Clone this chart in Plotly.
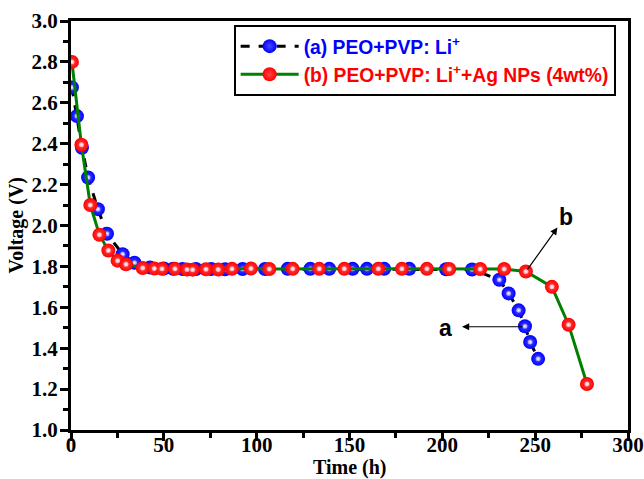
import plotly.graph_objects as go

# Series (a) PEO+PVP: Li+
time_a = [0.5, 3.2, 5.9, 9.2, 14.5, 19.4, 27.8, 34.2, 42.5, 50.0, 55.0, 60.1, 67.3, 75.5, 83.0,
          92.4, 104.5, 116.7, 128.9, 139.1, 151.7, 159.4, 168.7, 182.2, 202.0, 216.0,
          230.7, 235.7, 241.1, 244.5, 247.3, 251.6]
volt_a = [2.675, 2.535, 2.38, 2.235, 2.08, 1.96, 1.86, 1.818, 1.795, 1.79, 1.788, 1.787, 1.787, 1.787, 1.786,
          1.787, 1.787, 1.788, 1.788, 1.788, 1.788, 1.788, 1.788, 1.788, 1.786, 1.785,
          1.735, 1.668, 1.585, 1.507, 1.43, 1.348]

# Series (b) PEO+PVP: Li+ + Ag NPs (4wt%)
time_b = [0.5, 5.6, 10.4, 15.3, 20.1, 25.1, 29.6, 38.6, 44.9, 49.0, 56.0, 62.5, 65.5, 72.7,
          79.3, 86.7, 96.9, 106.8, 119.4, 133.7, 147.2, 165.5, 178.2, 191.7, 203.7, 220.4,
          233.3, 245.0, 259.0, 268.0, 277.9]
volt_b = [2.80, 2.395, 2.10, 1.955, 1.878, 1.828, 1.81, 1.792, 1.79, 1.788, 1.788, 1.785, 1.784, 1.786,
          1.785, 1.788, 1.79, 1.787, 1.788, 1.788, 1.788, 1.788, 1.788, 1.788, 1.787, 1.787,
          1.787, 1.775, 1.70, 1.515, 1.225]

x_ticks = [0, 50, 100, 150, 200, 250, 300]
y_ticks = [1.0, 1.2, 1.4, 1.6, 1.8, 2.0, 2.2, 2.4, 2.6, 2.8, 3.0]

MS = 14
fig = go.Figure()
fig.add_trace(go.Scatter(
    x=time_a, y=volt_a, mode="lines+markers",
    name="<b><span style='color:#0000ff'>(a) PEO+PVP: Li<sup>+</sup></span></b>",
    line=dict(color="black", width=3, dash="dash"),
    marker=dict(size=MS, color="#0000ff", line=dict(width=0),
                gradient=dict(type="radial", color="#4848ff")),
))
fig.add_trace(go.Scatter(
    x=time_a, y=volt_a, mode="markers", showlegend=False, hoverinfo="skip",
    marker=dict(size=5, color="#8888ff", line=dict(width=0),
                gradient=dict(type="radial", color="#ffffff")),
))
fig.add_trace(go.Scatter(
    x=time_b, y=volt_b, mode="lines+markers",
    name="<b><span style='color:#ff0000'>(b) PEO+PVP: Li<sup>+</sup>+Ag NPs (4wt%)</span></b>",
    line=dict(color="#008000", width=3),
    marker=dict(size=MS, color="#ff0000", line=dict(width=0),
                gradient=dict(type="radial", color="#ff4848")),
))
fig.add_trace(go.Scatter(
    x=time_b, y=volt_b, mode="markers", showlegend=False, hoverinfo="skip",
    marker=dict(size=5, color="#ff9aa8", line=dict(width=0),
                gradient=dict(type="radial", color="#ffffff")),
))

# arrows and labels
fig.add_annotation(x=210.6, y=1.505, ax=244.0, ay=1.505, xref="x", yref="y", axref="x", ayref="y",
                   text="", showarrow=True, arrowhead=2, arrowsize=1.2, arrowwidth=1.2,
                   arrowcolor="black", standoff=0, startstandoff=0)
fig.add_annotation(x=201.5, y=1.5, text="<b>a</b>", showarrow=False,
                   font=dict(family="Arial, Liberation Sans", size=23, color="black"))
fig.add_annotation(x=262.0, y=1.99, ax=245.3, ay=1.778, xref="x", yref="y", axref="x", ayref="y",
                   text="", showarrow=True, arrowhead=2, arrowsize=1.2, arrowwidth=1.2,
                   arrowcolor="black", standoff=0, startstandoff=0)
fig.add_annotation(x=266.5, y=2.04, text="<b>b</b>", showarrow=False,
                   font=dict(family="Arial, Liberation Sans", size=23, color="black"))

serif = "Times New Roman, Liberation Serif"
# axis titles as paper annotations for precise placement
fig.add_annotation(x=0.5, y=-0.091, xref="paper", yref="paper", text="<b>Time (h)</b>",
                   showarrow=False, xanchor="center", yanchor="middle",
                   font=dict(family=serif, size=20, color="black"))
fig.add_annotation(x=-0.097, y=0.5, xref="paper", yref="paper", text="<b>Voltage (V)</b>",
                   showarrow=False, xanchor="center", yanchor="middle", textangle=-90,
                   font=dict(family=serif, size=20, color="black"))

axis_font = dict(family=serif, size=21, color="black")
fig.update_xaxes(
    range=[0, 300], tickvals=x_ticks, ticktext=[f"<b>{v}</b>" for v in x_ticks],
    ticks="outside", ticklen=8, tickwidth=2.5, tickcolor="black",
    minor=dict(dtick=25, tick0=0, ticks="outside", ticklen=5, tickwidth=2.5, tickcolor="black"),
    showline=True, linewidth=3, linecolor="black", mirror=True,
    showgrid=False, zeroline=False, tickfont=axis_font, automargin=False,
    ticklabelstandoff=-14,
)
fig.update_yaxes(
    range=[1.0, 3.0], tickvals=y_ticks, ticktext=[f"<b>{v:.1f}</b>" for v in y_ticks],
    ticks="outside", ticklen=8, tickwidth=2.5, tickcolor="black",
    minor=dict(dtick=0.1, tick0=1.0, ticks="outside", ticklen=5, tickwidth=2.5, tickcolor="black"),
    showline=True, linewidth=3, linecolor="black", mirror=True,
    showgrid=False, zeroline=False, tickfont=axis_font, automargin=False,
    ticklabelstandoff=-2,
)

fig.update_layout(
    width=644, height=479,
    margin=dict(l=71, r=16, t=21, b=49),
    plot_bgcolor="white", paper_bgcolor="white",
    legend=dict(x=0.292, y=0.99, xanchor="left", yanchor="top",
                bgcolor="white", bordercolor="black", borderwidth=2,
                font=dict(family="Arial, Liberation Sans", size=19.3, color="black"),
                tracegroupgap=0, itemwidth=58, entrywidth=352, entrywidthmode="pixels"),
    showlegend=True,
)

fig.write_html("out.html")
